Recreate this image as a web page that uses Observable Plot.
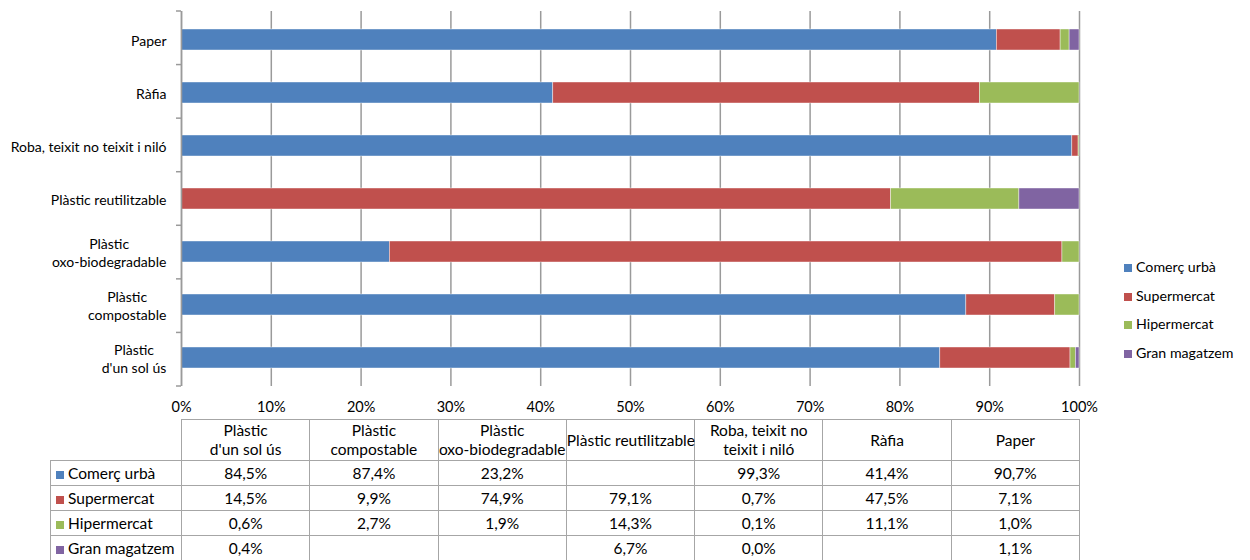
<!DOCTYPE html>
<html>
<head>
<meta charset="utf-8">
<script src="https://cdn.jsdelivr.net/npm/d3@7"></script>
<script src="https://cdn.jsdelivr.net/npm/@observablehq/plot@0.6"></script>
<style>
  body { margin: 0; background: #fff; font-family: Lato, "Noto Sans", sans-serif; color: #000; }
  #wrap { position: relative; width: 1250px; height: 560px; overflow: hidden; background: #fff; }
  #wrap svg { display: block; }
  #legend { position: absolute; left: 1124px; top: 258px; font-size: 14.2px; }
  .li { position: absolute; left: 0; white-space: nowrap; height: 18px; line-height: 18px; }
  .sw { display: inline-block; width: 8px; height: 8px; margin-right: 4px; vertical-align: 0px; }
  table { position: absolute; left: 50px; top: 419px; border-collapse: collapse; table-layout: fixed; font-size: 15.5px; width: 1029px; }
  td { border: 1px solid #a6a6a6; text-align: center; padding: 0; white-space: nowrap; overflow: visible; }
  td.blank { border-top: none; border-left: none; }
  td.hdr { white-space: pre; line-height: 19px; }
  td.rl { text-align: left; padding-left: 5px; }
  tr.h { height: 41px; }
  tr.r { height: 25px; }
</style>
</head>
<body>
<div id="wrap"></div>
<script>
// ---- data ----
const categories = ["Plàstic d'un sol ús", "Plàstic compostable", "Plàstic oxo-biodegradable", "Plàstic reutilitzable", "Roba, teixit no teixit i niló", "Ràfia", "Paper"];
const axisLabels = ["Plàstic\nd'un sol ús", "Plàstic\ncompostable", "Plàstic\noxo-biodegradable", "Plàstic reutilitzable", "Roba, teixit no teixit i niló", "Ràfia", "Paper"];
const headerLabels = ["Plàstic\nd'un sol ús", "Plàstic\ncompostable", "Plàstic\noxo-biodegradable", "Plàstic reutilitzable", "Roba, teixit no\nteixit i niló", "Ràfia", "Paper"];
const series = ["Comerç urbà", "Supermercat", "Hipermercat", "Gran magatzem"];
const colors = ["#4f81bd", "#c0504d", "#9bbb59", "#8064a2"];
const comercUrba   = [84.5, 87.4, 23.2, null, 99.3, 41.4, 90.7];
const supermercat  = [14.5,  9.9, 74.9, 79.1,  0.7, 47.5,  7.1];
const hipermercat  = [ 0.6,  2.7,  1.9, 14.3,  0.1, 11.1,  1.0];
const granMagatzem = [ 0.4, null, null,  6.7,  0.0, null,  1.1];
const xTicks = [0, 0.1, 0.2, 0.3, 0.4, 0.5, 0.6, 0.7, 0.8, 0.9, 1];

const seriesValues = [comercUrba, supermercat, hipermercat, granMagatzem];
const rows = series.flatMap((s, si) => categories.map((c, ci) => ({cat: c, series: s, value: seriesValues[si][ci]})))
  .filter(d => d.value != null);

const gridColor = "#9a9a9a";

function boundaryTicks(index, scales, values, dims) {
  const n = categories.length;
  const top = dims.marginTop, bottom = dims.height - dims.marginBottom;
  const g = d3.create("svg:g");
  for (let i = 0; i <= n; i++) {
    const yy = top + (bottom - top) * i / n;
    g.append("line").attr("x1", dims.marginLeft - 5).attr("x2", dims.marginLeft)
      .attr("y1", yy).attr("y2", yy).attr("stroke", gridColor).attr("stroke-width", 1.5);
  }
  return g.node();
}

const chart = Plot.plot({
  width: 1250,
  height: 419,
  marginLeft: 181,
  marginRight: 171,
  marginTop: 11,
  marginBottom: 33,
  style: {fontFamily: "Lato, 'Noto Sans', sans-serif", fontSize: "14px", color: "#000", background: "#fff"},
  x: {domain: [0, 1], axis: null, label: null},
  y: {domain: categories.slice().reverse(), paddingInner: 0.6, paddingOuter: 0.3, axis: null, label: null},
  color: {domain: series, range: colors},
  marks: [
    Plot.gridX(xTicks, {stroke: gridColor, strokeOpacity: 1, strokeWidth: 1.5}),
    Plot.barX(rows, Plot.stackX({x: "value", y: "cat", fill: "series", order: series, offset: "normalize",
      stroke: "#fff", strokeWidth: 0.6, strokeOpacity: 0.7})),
    Plot.ruleX([0], {stroke: gridColor, strokeWidth: 1.5}),
    boundaryTicks,
    Plot.axisX(xTicks, {anchor: "bottom", label: null, tickFormat: d3.format(".0%"), tickSize: 0, tickPadding: 15, fontSize: 14.5}),
    Plot.axisY({anchor: "left", label: null, tickSize: 0, tickPadding: 15, fontSize: 14, lineHeight: 1.32,
      tickFormat: c => axisLabels[categories.indexOf(c)]})
  ]
});

const wrap = document.getElementById("wrap");
wrap.appendChild(chart);

// centre multi-line y labels within their block (right-aligned block)
d3.select(chart).selectAll('g[aria-label="y-axis tick label"] text').each(function() {
  const tspans = this.querySelectorAll("tspan");
  if (tspans.length > 1) {
    const w = this.getBBox().width;
    this.setAttribute("text-anchor", "middle");
    tspans.forEach(t => t.setAttribute("x", -w / 2));
  }
});

// legend
const legend = d3.select(wrap).append("div").attr("id", "legend");
series.forEach((s, i) => {
  const item = legend.append("div").attr("class", "li").style("top", (i * 28.5) + "px");
  item.append("span").attr("class", "sw").style("background", colors[i]);
  item.append("span").text(s);
});

// data table
const fmt = v => v == null ? "" : v.toFixed(1).replace(".", ",") + "%";
const table = d3.select(wrap).append("table");
const cg = table.append("colgroup");
cg.append("col").style("width", "131px");
categories.forEach(() => cg.append("col").style("width", "128.29px"));
const hr = table.append("tr").attr("class", "h");
hr.append("td").attr("class", "blank");
headerLabels.forEach(h => hr.append("td").attr("class", "hdr").text(h));
series.forEach((s, si) => {
  const tr = table.append("tr").attr("class", "r");
  const lc = tr.append("td").attr("class", "rl");
  lc.append("span").attr("class", "sw").style("background", colors[si]);
  lc.append("span").text(s);
  seriesValues[si].forEach(v => tr.append("td").text(fmt(v)));
});
</script>
</body>
</html>
